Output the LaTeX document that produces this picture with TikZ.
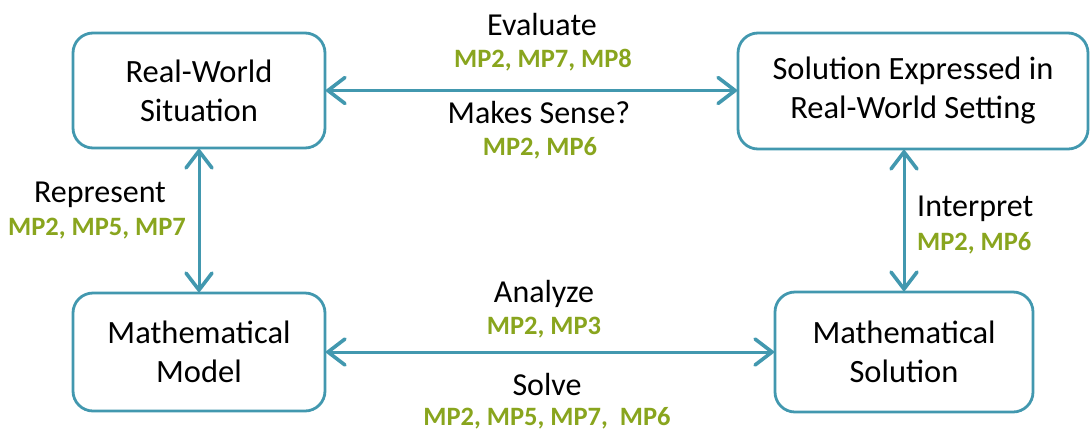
\documentclass[tikz,border=0pt]{standalone}
\usepackage{fontspec}
\setmainfont{Carlito}
\usetikzlibrary{arrows.meta,calc}
\definecolor{tealline}{RGB}{66,152,175}
\definecolor{mpgreen}{RGB}{137,165,30}
\tikzset{barb/.tip={Straight Barb[length=17pt,width=26pt,line width=3.6pt,line cap=round]}}
\begin{document}
\begin{tikzpicture}[x=1pt,y=-1pt,
  stagebox/.style={draw=tealline, line width=2.8pt, rounded corners=20pt,
    fill=white, align=center, inner sep=0pt, outer sep=0pt,
    font=\fontsize{32.5}{39}\selectfont},
  link/.style={draw=tealline, line width=3pt, barb-barb},
  verb/.style={anchor=base, inner sep=0pt, font=\fontsize{32}{38}\selectfont},
  practice/.style={anchor=base, inner sep=0pt, text=mpgreen,
    font=\fontsize{26.5}{30}\selectfont\bfseries}]
\useasboundingbox (0,0) rectangle (1091,432);

% the four stages
\node[stagebox, minimum width=252pt, minimum height=115pt] (world) at (199,90.5)
  {Real-World\\Situation};
\node[stagebox, minimum width=350pt, minimum height=116pt] (setting) at (913,91)
  {Solution Expressed in\\Real-World Setting};
\node[stagebox, minimum width=252pt, minimum height=118pt] (model) at (199,352)
  {Mathematical\\Model};
\node[stagebox, minimum width=258pt, minimum height=120pt] (solution) at (904,352)
  {Mathematical\\Solution};

% connectors between stages
\draw[link] (world.east) -- (world.east -| setting.west);
\draw[link] (world.south) -- (model.north);
\draw[link] (model.east) -- (model.east -| solution.west);
\draw[link] (setting.south -| solution.north) -- (solution.north);

% process labels with their mathematical practices
\node[verb] (evaluate) at (542,35) {Evaluate};
\node[practice] (evalmp) at (543,67) {MP2, MP7, MP8};
\node[verb] (sense) at (539,123) {Makes Sense?};
\node[practice] (sensemp) at (540,155) {MP2, MP6};

\node[verb] (represent) at (100,202) {Represent};
\node[practice] (repmp) at (97,235) {MP2, MP5, MP7};

\node[verb, anchor=base west] (interpret) at (917,216) {Interpret};
\node[practice, anchor=base west] (intmp) at (917,250) {MP2, MP6};

\node[verb] (analyze) at (544,302) {Analyze};
\node[practice] (anamp) at (544,334) {MP2, MP3};
\node[verb] (solve) at (547,395) {Solve};
\node[practice] (solvemp) at (547,425) {MP2, MP5, MP7,\ \ MP6};
\end{tikzpicture}
\end{document}
